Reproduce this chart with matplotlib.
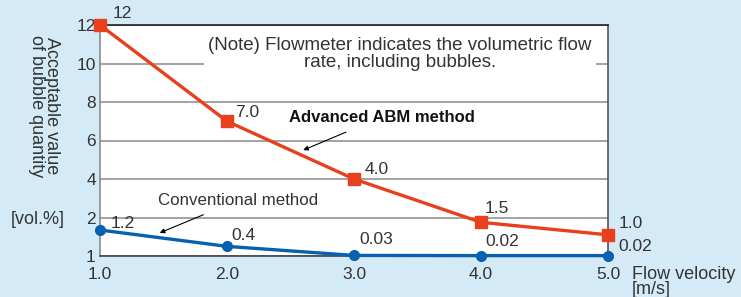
import numpy as np
import matplotlib
matplotlib.use('Agg')
import matplotlib.pyplot as plt

plt.rcParams['font.family'] = ['Liberation Sans', 'DejaVu Sans']

# data
velocity = [1.0, 2.0, 3.0, 4.0, 5.0]
abm_vals = [12.0, 7.0, 4.0, 1.75, 1.1]
abm_labels = ['12', '7.0', '4.0', '1.5', '1.0']
conv_vals = [1.35, 0.5, 0.03, 0.02, 0.02]
conv_labels = ['1.2', '0.4', '0.03', '0.02', '0.02']
yticks = [0, 2, 4, 6, 8, 10, 12]
ytick_labels = ['1', '2', '4', '6', '8', '10', '12']
xtick_labels = ['1.0', '2.0', '3.0', '4.0', '5.0']

# label offsets in pixels (dx, dy)
abm_off = [(22, 11), (20, 9), (23, 10), (16, 14), (23, 11)]
conv_off = [(23, 7), (16, 11), (22, 16), (21, 14), (27, 9)]

bg = '#d5eaf7'
red = '#e8401c'
blue = '#0860b0'
txt = '#333333'
fs = 12.5

fig = plt.figure(figsize=(7.41, 2.97), dpi=100, facecolor=bg)
ax = fig.add_axes([100/741, 1-256/297, 508/741, 231/297])
ax.set_facecolor('white')

ax.set_xlim(1.0, 5.0)
ax.set_ylim(0, 12)
ax.set_xticks(velocity)
ax.set_xticklabels(xtick_labels)
ax.set_yticks(yticks)
ax.set_yticklabels(ytick_labels)
ax.tick_params(length=0, labelsize=fs, colors=txt, pad=3)
ax.tick_params(axis='x', pad=8)

ax.set_axisbelow(True)
ax.yaxis.grid(True, color='#8a8a8a', linewidth=1.1)
ax.spines['top'].set_color('#222222')
ax.spines['left'].set_color('#8a8a8a')
ax.spines['right'].set_color('#555555')
ax.spines['bottom'].set_color('#444444')
for s in ax.spines.values():
    s.set_linewidth(1.2)

ax.plot(velocity, abm_vals, color=red, lw=2.4, marker='s', ms=8,
        clip_on=False, zorder=5)
ax.plot(velocity, conv_vals, color=blue, lw=2.4, marker='o', ms=7,
        clip_on=False, zorder=5)

for x, y, lab, off in zip(velocity, abm_vals, abm_labels, abm_off):
    ax.annotate(lab, (x, y), xytext=off, textcoords='offset pixels',
                ha='center', va='center', fontsize=fs, color=txt,
                annotation_clip=False)
for x, y, lab, off in zip(velocity, conv_vals, conv_labels, conv_off):
    ax.annotate(lab, (x, y), xytext=off, textcoords='offset pixels',
                ha='center', va='center', fontsize=fs, color=txt,
                annotation_clip=False)

# note box
ax.text(3.36, 10.5, '(Note) Flowmeter indicates the volumetric flow\nrate, including bubbles.',
        ha='center', va='center', fontsize=13.5, color=txt, linespacing=1.0,
        bbox=dict(facecolor='white', edgecolor='none', pad=3))

# series annotations
ax.annotate('Advanced ABM method', xy=(2.60, 5.5), xytext=(3.22, 7.22),
            ha='center', va='center', fontsize=12, fontweight='bold',
            color='#111111',
            arrowprops=dict(arrowstyle='-|>', color='black', lw=0.8,
                            mutation_scale=7, shrinkA=9, shrinkB=0))
ax.annotate('Conventional method', xy=(1.47, 1.2), xytext=(2.09, 2.9),
            ha='center', va='center', fontsize=12.2, color=txt,
            arrowprops=dict(arrowstyle='-|>', color='black', lw=0.8,
                            mutation_scale=7, shrinkA=8, shrinkB=0))

# axis titles
fig.text(44/741, 1-106/297, 'Acceptable value\nof bubble quantity', rotation=-90,
         ha='center', va='center', fontsize=13, color=txt, linespacing=0.9)
fig.text(38/741, 1-220/297, '[vol.%]', ha='center', va='center',
         fontsize=13, color=txt)
fig.text(632/741, 1-282/297, 'Flow velocity\n[m/s]', ha='left', va='center',
         fontsize=13, color=txt, linespacing=0.9)

fig.savefig('out.png', dpi=100, facecolor=bg)
